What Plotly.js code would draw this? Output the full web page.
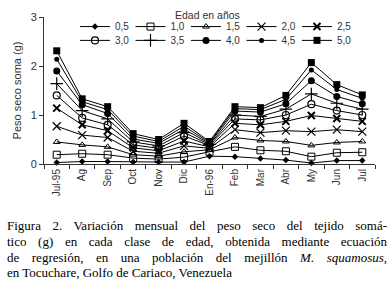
<!DOCTYPE html>
<html>
<head>
<meta charset="utf-8">
<script src="https://cdn.plot.ly/plotly-3.0.1.min.js"></script>
<style>html,body{margin:0;padding:0;background:#fff;}#chart{width:391px;height:281px;}</style>
</head>
<body>
<div id="chart"></div>
<script>
// Months (categories)
const months = ["Jul-95","Ag","Sep","Oct","Nov","Dic","En-96","Feb","Mar","Abr","My","Jun","Jul"];
// Age classes (legend labels)
const ages = ["0,5","1,0","1,5","2,0","2,5","3,0","3,5","4,0","4,5","5,0"];
// Dry weight of somatic tissue (g) per age class
const age05 = [0.03,0.05,0.05,0.04,0.04,0.04,0.16,0.15,0.11,0.08,0.02,0.07,0.07];
const age10 = [0.19,0.21,0.19,0.12,0.10,0.14,0.25,0.35,0.28,0.26,0.15,0.23,0.24];
const age15 = [0.45,0.39,0.35,0.19,0.16,0.25,0.29,0.54,0.48,0.46,0.38,0.44,0.46];
const age20 = [0.77,0.59,0.54,0.26,0.22,0.37,0.32,0.70,0.64,0.68,0.66,0.70,0.66];
const age25 = [1.14,0.80,0.68,0.33,0.27,0.47,0.35,0.83,0.80,0.87,0.99,0.93,0.87];
const age30 = [1.40,0.94,0.80,0.39,0.32,0.57,0.38,0.92,0.90,1.00,1.22,1.09,1.00];
const age35 = [1.64,1.09,0.92,0.45,0.37,0.64,0.40,1.00,0.97,1.12,1.43,1.24,1.12];
const age40 = [1.90,1.21,1.03,0.51,0.42,0.71,0.42,1.08,1.06,1.23,1.70,1.38,1.23];
const age45 = [2.14,1.27,1.11,0.57,0.46,0.77,0.44,1.13,1.11,1.32,1.92,1.52,1.34];
const age50 = [2.31,1.33,1.17,0.62,0.50,0.83,0.46,1.17,1.15,1.40,2.07,1.62,1.41];
const series = [age05,age10,age15,age20,age25,age30,age35,age40,age45,age50];

const legendTitle = "Edad en años";
const caption = [
  "Figura 2. Variación mensual del peso seco del tejido somá-",
  "tico (g) en cada clase de edad, obtenida mediante ecuación",
  "de regresión, en una población del mejillón <i>M. squamosus</i>,",
  "en Tocuchare, Golfo de Cariaco, Venezuela"
];

const markerStyles = [
  {symbol:"diamond", size:5, color:"#000", line:{width:0}},
  {symbol:"square-open", size:7, color:"#000", line:{width:1}},
  {symbol:"triangle-up-open", size:6, color:"#000", line:{width:1}},
  {symbol:"x-thin-open", size:8, color:"#000", line:{width:1.2, color:"#000"}},
  {symbol:"x-thin-open", size:7, color:"#000", line:{width:2, color:"#000"}},
  {symbol:"circle-open", size:7, color:"#000", line:{width:1.2}},
  {symbol:"cross-thin-open", size:9, color:"#000", line:{width:1.2, color:"#000"}},
  {symbol:"circle", size:7, color:"#000", line:{width:0}},
  {symbol:"circle", size:5, color:"#000", line:{width:0}},
  {symbol:"square", size:7, color:"#000", line:{width:0}}
];

// pixel helpers for plot geometry
const L = 44, T = 15, W = 331, H = 149;
const px2x = p => (p - L) / W;
const px2y = p => (T + H - p) / H;

const traces = series.map((vals, i) => ({
  type: "scatter",
  mode: "lines+markers",
  x: months,
  y: vals,
  name: ages[i],
  line: {color: "#000", width: 1},
  marker: markerStyles[i],
  legend: i < 5 ? "legend" : "legend2",
  cliponaxis: false
}));

const FAM = "Liberation Sans, Arial, sans-serif";
const axisFont = {family: FAM, size: 10, color: "#333"};
const capFont = {family: "Liberation Serif, Times New Roman, serif", size: 13, color: "#000"};
const capY = [226, 242.5, 258.5, 274];
const capTargetW = [380, 380, 380, 0];

const legendCommon = {
  orientation: "h", xanchor: "left", yanchor: "top",
  entrywidth: 10.5, entrywidthmode: "pixels",
  bgcolor: "rgba(0,0,0,0)", borderwidth: 0,
  font: {family: FAM, size: 10, color: "#333"},
  itemclick: false
};

const layout = {
  width: 391, height: 281,
  margin: {l: L, r: 391 - L - W, t: T, b: 281 - T - H},
  paper_bgcolor: "#fff", plot_bgcolor: "#fff",
  font: axisFont,
  showlegend: true,
  xaxis: {
    type: "category", range: [-0.5, 12.5],
    tickson: "boundaries", ticks: "outside", ticklen: 4, tickcolor: "#333",
    showline: true, linecolor: "#333", linewidth: 1,
    showgrid: false, zeroline: false, tickangle: -90,
    tickfont: {family: FAM, size: 10, color: "#333"}
  },
  yaxis: {
    range: [0, 3], tickvals: [0, 1, 2, 3], ticktext: ["0", "1", "2", "3"],
    ticks: "outside", ticklen: 4, tickcolor: "#333",
    showline: true, linecolor: "#333", linewidth: 1,
    showgrid: false, zeroline: false,
    tickfont: {family: FAM, size: 11, color: "#333"},
    title: {text: "Peso seco soma (g)", font: {family: FAM, size: 11, color: "#333"}, standoff: 6}
  },
  legend: Object.assign({}, legendCommon, {x: px2x(75), y: px2y(10)}),
  legend2: Object.assign({}, legendCommon, {x: px2x(75), y: px2y(24)}),
  annotations: [{
    text: legendTitle, xref: "paper", yref: "paper",
    x: px2x(207), y: px2y(12.7), xanchor: "center", yanchor: "middle",
    showarrow: false, font: {family: FAM, size: 10.5, color: "#333"}
  }].concat(caption.map((t, i) => ({
    text: t, xref: "paper", yref: "paper",
    x: px2x(5), y: px2y(capY[i]), xanchor: "left", yanchor: "middle",
    showarrow: false, font: capFont, align: "left"
  })))
};

Plotly.newPlot("chart", traces, layout, {staticPlot: true, displayModeBar: false}).then(gd => {
  // justify the caption lines like the printed figure legend
  const texts = gd.querySelectorAll(".annotation-text");
  texts.forEach(el => {
    const idx = caption.findIndex(c => c.replace(/<[^>]+>/g, "") === el.textContent);
    if (idx < 0 || !capTargetW[idx]) return;
    const len = el.getComputedTextLength ? el.getComputedTextLength() : el.getBBox().width;
    const spaces = (el.textContent.match(/ /g) || []).length;
    if (spaces > 0 && len < capTargetW[idx]) {
      el.style.wordSpacing = ((capTargetW[idx] - len) / spaces) + "px";
    }
  });
});
</script>
</body>
</html>
